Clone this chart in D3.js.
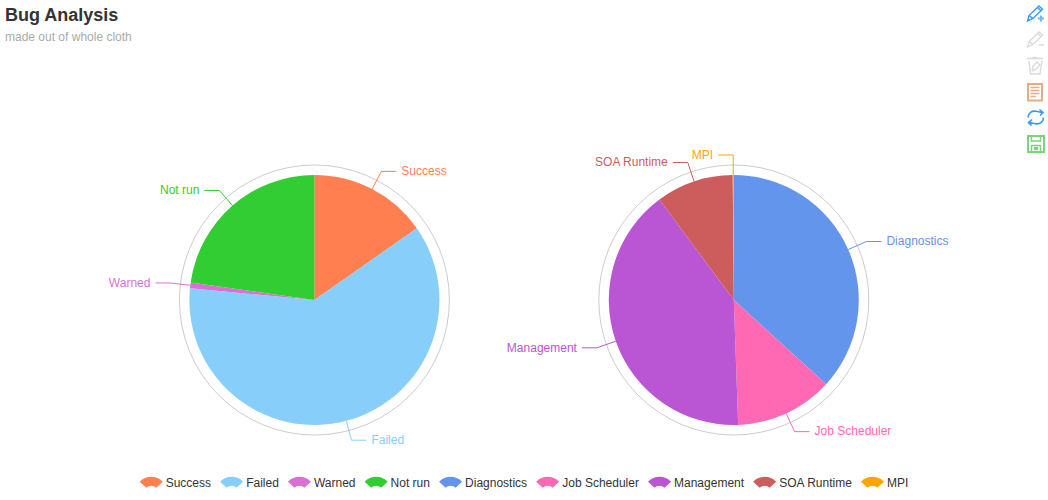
<!DOCTYPE html>
<html><head><meta charset="utf-8">
<script src="https://cdnjs.cloudflare.com/ajax/libs/d3/7.8.5/d3.min.js"></script>
<style>html,body{margin:0;padding:0;background:#fff}svg{display:block}text{font-family:"Liberation Sans",Arial,sans-serif}</style>
</head><body><svg id="c" width="1048" height="500"></svg>
<script>
const leftNames=["Success","Failed","Warned","Not run"];
const leftValues=[55,220.4,2.7,81.9];
const rightNames=["Diagnostics","Job Scheduler","Management","SOA Runtime","MPI"];
const rightValues=[132.4,45.6,145.5,36,0.5];
const legendNames=leftNames.concat(rightNames);
const palette=["#ff7f50","#87cefa","#da70d6","#32cd32","#6495ed","#ff69b4","#ba55d3","#cd5c5c","#ffa500"];
const color=d3.scaleOrdinal(legendNames,palette);
const svg=d3.select("#c");
const W=1048;
svg.append("text").attr("x",5).attr("y",21).attr("font-size",18).attr("font-weight","bold").attr("fill","#333").text("Bug Analysis");
svg.append("text").attr("x",5).attr("y",41).attr("font-size",12).attr("fill","#aaa").text("made out of whole cloth");
const R=125,ringR=135,labelR=145,elbow=15,gap=5;
function drawPie(cx,cy,names,values){
  const g=svg.append("g").attr("transform",`translate(${cx},${cy})`);
  g.append("circle").attr("r",ringR).attr("fill","none").attr("stroke","#ccc").attr("stroke-width",1);
  const arcs=d3.pie().sort(null).value((d,i)=>values[names.indexOf(d)])(names);
  const arc=d3.arc().innerRadius(0).outerRadius(R);
  g.selectAll("path.s").data(arcs).join("path").attr("class","s").attr("d",arc).attr("fill",d=>color(d.data));
  arcs.forEach(d=>{
    const a=(d.startAngle+d.endAngle)/2,sx=Math.sin(a),sy=-Math.cos(a);
    const right=sx>=0,dir=right?1:-1;
    const x2=labelR*sx,y2=labelR*sy;
    g.append("path").attr("fill","none").attr("stroke",color(d.data)).attr("stroke-width",1)
      .attr("d",d3.line()([[R*sx,R*sy],[x2,y2],[x2+dir*elbow,y2]]));
    g.append("text").attr("x",x2+dir*(elbow+gap)).attr("y",y2-0.4).attr("dy","0.35em")
      .attr("text-anchor",right?"start":"end").attr("font-size",12).attr("fill",color(d.data)).text(d.data);
  });
}
drawPie(314.4,300,leftNames,leftValues);
drawPie(733.8,300,rightNames,rightValues);
// legend
const legend=svg.append("g");
const symW=23,symGap=3,itemGap=9.1;let x=0;
const a0=47*Math.PI/180;
const legendArc=d3.arc().innerRadius(6.8).outerRadius(15.7).startAngle(-a0).endAngle(a0);
legendNames.forEach(n=>{
  const it=legend.append("g").attr("transform",`translate(${x},0)`);
  it.append("path").attr("d",legendArc()).attr("fill",color(n)).attr("transform",`translate(${symW/2},492.5)`);
  const t=it.append("text").attr("x",symW+symGap).attr("y",487).attr("font-size",12).attr("fill","#333").text(n);
  x+=symW+symGap+t.node().getComputedTextLength()+itemGap;
});
legend.attr("transform",`translate(${(W-(x-itemGap))/2},0)`);
// toolbox
const blue="#1e90ff",grey="#ccc",brown="#d2691e",green="#22bb22";
function icon(cy,col,op,draw){const g=svg.append("g").attr("transform",`translate(1027,${cy-8})`).attr("fill","none").attr("stroke",col).attr("stroke-width",1.4).attr("opacity",op);draw(g);}
const pencil="M0.5 16 L2 10.5 L12 1 L15.5 4.3 L6 13.5 Z M2 10.5 L6 13.5 M10.5 2.5 L14 5.8";
icon(13,blue,.9,g=>{g.append("path").attr("d",pencil);g.append("path").attr("d","M14 10.5V16.5M11 13.5H17").attr("stroke-width",2).attr("opacity",.7);});
icon(39,grey,.7,g=>{g.append("path").attr("d",pencil);g.append("path").attr("d","M11.5 14H17").attr("stroke-width",1.5);});
icon(65,grey,.7,g=>{g.append("path").attr("d","M0 1.5H16M2 4L3.5 17H13L15 4");g.append("path").attr("d","M5.5 0.8H10.5").attr("stroke-width",2);g.append("path").attr("d","M5 14L6 9L10 5L13 8L9 12L5 14");});
icon(91,brown,.55,g=>{g.append("rect").attr("x",1).attr("y",1).attr("width",14).attr("height",16.5).attr("stroke-width",2);g.append("path").attr("d","M3.5 4.5H12.5M3.5 7.5H12.5M3.5 10.5H12.5M3.5 13.5H9").attr("stroke-width",1.5);});
icon(117,blue,.9,g=>{g.append("path").attr("d","M1 8.5C1 4 5 1.5 9 2.3L15 3.5M12.5 0.5L16 3.5L13 6.5").attr("stroke-width",1.6);g.append("path").attr("d","M16.5 8.5C16.5 13 12.5 15.5 8.5 14.7L2.5 13.5M5 10.5L1.5 13.5L4.5 16.5").attr("stroke-width",1.6);});
icon(143,green,.6,g=>{g.append("rect").attr("x",1).attr("y",1).attr("width",16).attr("height",16).attr("stroke-width",2);g.append("path").attr("d","M4.5 1V6H13.5V1M4.5 17V10.5H13.5V17");g.append("rect").attr("x",7.5).attr("y",12.5).attr("width",3).attr("height",2).attr("fill",green);});
</script></body></html>
